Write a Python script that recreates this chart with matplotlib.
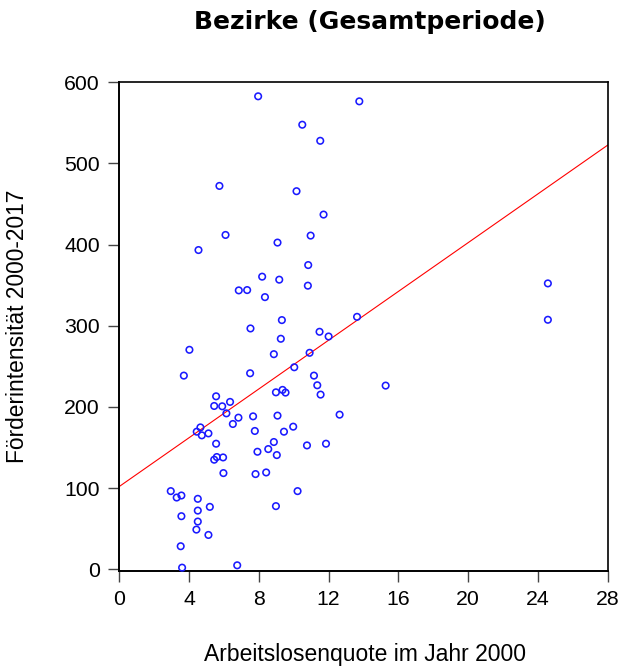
import matplotlib
matplotlib.use("Agg")
import matplotlib.pyplot as plt
import numpy as np

# Data
arbeitslosenquote = [
    7.96, 13.76, 10.49, 11.52, 5.74, 10.16, 11.71, 6.09, 10.97, 9.07,
    4.54, 10.83, 8.19, 9.17, 10.81, 6.85, 7.33, 8.35, 9.32, 13.63,
    7.52, 4.02, 9.26, 11.48, 12.00, 8.86, 10.91, 3.70, 7.50, 10.03,
    11.16, 11.35, 11.54, 12.63, 8.98, 9.36, 9.53, 5.55, 6.35, 5.44,
    5.90, 6.14, 6.83, 7.67, 9.07, 6.51, 4.65, 4.44, 4.73, 5.11,
    7.77, 9.97, 9.44, 5.55, 8.86, 8.54, 10.76, 11.85, 7.92, 9.03,
    5.59, 5.44, 5.95, 5.97, 7.81, 8.42, 2.95, 3.29, 3.56, 4.50,
    10.22, 3.56, 4.50, 5.19, 8.98, 4.50, 4.42, 5.11, 3.52, 3.60,
    6.76, 15.27, 24.57, 24.57,
]
foerderintensitaet = [
    582.7, 576.5, 547.7, 527.9, 472.3, 465.8, 437.0, 411.9, 411.1, 402.5,
    393.3, 374.8, 360.5, 356.8, 349.4, 343.6, 344.0, 335.3, 307.0, 311.0,
    296.7, 270.4, 284.0, 292.6, 286.8, 265.0, 266.7, 238.6, 241.5, 248.9,
    238.6, 226.7, 215.2, 190.5, 218.0, 221.0, 217.7, 213.1, 206.2, 201.2,
    200.8, 192.1, 186.8, 188.4, 189.3, 179.0, 174.8, 169.5, 165.0, 167.4,
    170.4, 175.7, 169.5, 154.7, 156.8, 148.1, 152.6, 154.7, 144.8, 140.7,
    138.3, 135.0, 137.8, 118.5, 117.3, 119.3, 96.3, 88.4, 90.9, 86.8,
    96.3, 65.4, 72.3, 76.9, 77.8, 58.8, 48.9, 42.3, 28.4, 2.0,
    4.9, 226.3, 307.4, 352.2,
]
fit_intercept = 102.0
fit_slope = 15.02

x_ticks = [0, 4, 8, 12, 16, 20, 24, 28]
y_ticks = [0, 100, 200, 300, 400, 500, 600]

W, H = 621, 668
fig = plt.figure(figsize=(W / 100, H / 100), dpi=100)
ax = fig.add_axes([119.3 / W, 1 - 570.5 / H, (607.7 - 119.3) / W, (570.5 - 81.7) / H])

tick_font = dict(family=["Liberation Sans", "DejaVu Sans"], size=15.3)

ax.scatter(arbeitslosenquote, foerderintensitaet, s=22, facecolors="none",
           edgecolors="#1a1aff", linewidths=1.15, clip_on=False, zorder=3)

xl = np.array([0, 28])
ax.plot(xl, fit_intercept + fit_slope * xl, color="#ff0000", lw=0.8, zorder=2)

ax.set_xlim(0, 28)
ax.set_ylim(-1.5, 600.7)
ax.set_xticks(x_ticks)
ax.set_yticks(y_ticks)
ax.set_xticklabels([str(t) for t in x_ticks], **tick_font)
ax.set_yticklabels([str(t) for t in y_ticks], **tick_font)
ax.tick_params(direction="out", length=8, width=1.0, color="#444444", pad=6)

for side in ["left", "bottom"]:
    ax.spines[side].set_linewidth(1.4)
for side in ["top", "right"]:
    ax.spines[side].set_linewidth(1.2)
for sp in ax.spines.values():
    sp.set_color("black")

fig.text(369.5 / W, 1 - 22 / H, "Bezirke (Gesamtperiode)", ha="center", va="center",
         fontsize=18, fontweight="bold", family=["DejaVu Sans"])
fig.text(364.5 / W, 1 - 655 / H, "Arbeitslosenquote im Jahr 2000", ha="center", va="center",
         family=["Liberation Sans", "DejaVu Sans"], fontsize=16.5)
fig.text(18 / W, 1 - 326 / H, "Förderintensität 2000-2017", ha="center", va="center",
         rotation=90, family=["Liberation Sans", "DejaVu Sans"], fontsize=16.4)

fig.savefig("out.png", dpi=100)
